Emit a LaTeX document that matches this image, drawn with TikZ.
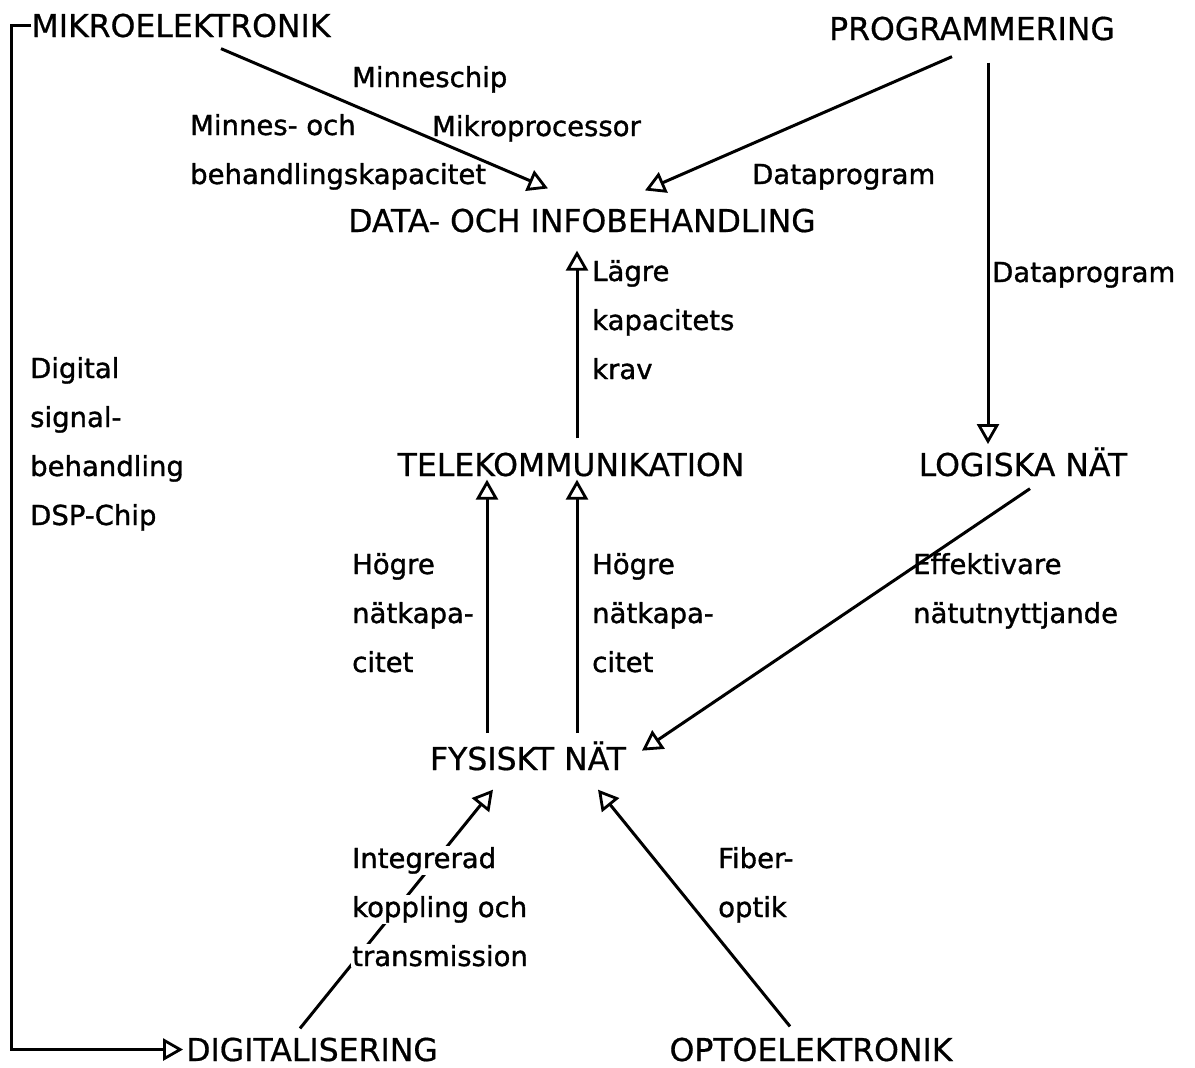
\documentclass[tikz,border=0pt]{standalone}
\usepackage{fontspec}
\setmainfont{DejaVu Sans}
\newfontfamily\omradefont[FakeBold=0.6]{DejaVu Sans}
\newfontfamily\etikettfont[FakeBold=1.2]{DejaVu Sans}
\usetikzlibrary{arrows.meta}
\newcommand{\vitbakgrund}[1]{{\setlength{\fboxsep}{1pt}\colorbox{white}{#1}}}

\begin{document}
\begin{tikzpicture}
            [
                x=1pt, y=-1pt,
                omrade/.style={inner sep=0pt, anchor=base, font=\omradefont\fontsize{31.5}{36}\selectfont},
                etikett/.style={inner sep=0pt, anchor=base west, align=left, font=\etikettfont\fontsize{27.5}{49}\selectfont},
                pil/.style={line width=3pt, -{Triangle[open, length=20pt, width=22pt, line width=2.8pt]}},
            ]
            \useasboundingbox (0,0) rectangle (1195,1068);
            % områden
            \node[omrade] (mikro) at (181,37) {MIKROELEKTRONIK};
            \node[omrade] (prog) at (972,40) {PROGRAMMERING};
            \node[omrade] (data) at (582,232) {DATA- OCH INFOBEHANDLING};
            \node[omrade] (tele) at (571,476) {TELEKOMMUNIKATION};
            \node[omrade] (logiska) at (1023,476) {LOGISKA NÄT};
            \node[omrade] (fysiskt) at (528,770) {FYSISKT NÄT};
            \node[omrade] (digital) at (312,1061) {DIGITALISERING};
            \node[omrade] (opto) at (811,1061) {OPTOELEKTRONIK};
            % pilar
            \draw[pil] ([shift={(40,11)}]mikro.south) -- ([shift={(-34,-20)}]data.north);
            \draw[pil] ([shift={(-20,16)}]prog.south) -- ([shift={(63,-18)}]data.north);
            \draw[pil] ([shift={(16,22)}]prog.south) -- ([shift={(-35,-3)}]logiska.north);
            \draw[pil] ([shift={(6,-14)}]tele.north) -- ([shift={(-5,18)}]data.south);
            \draw[pil] ([shift={(-41,-8)}]fysiskt.north) -- ([shift={(-84,3)}]tele.south);
            \draw[pil] ([shift={(49,-8)}]fysiskt.north) -- ([shift={(6,3)}]tele.south);
            \draw[pil] ([shift={(7,12)}]logiska.south) -- ([shift={(114,-20)}]fysiskt.south);
            \draw[pil] ([shift={(-12,-9)}]digital.north) -- ([shift={(-35,19)}]fysiskt.south);
            \draw[pil] ([shift={(-21,-11)}]opto.north) -- ([shift={(70,19)}]fysiskt.south);
            \draw[pil] (mikro.west) -- ++(-20,0) |- ([xshift=-3pt]digital.west);
            % etiketter
            \node[etikett] (minneschip) at (352,87) {Minneschip};
            \node[etikett] (minnes) at (190,184) {Minnes- och\\behandlingskapacitet};
            \node[etikett] (mikroproc) at (432,136) {Mikroprocessor};
            \node[etikett] (dataprogA) at (752,184) {Dataprogram};
            \node[etikett] (dataprogB) at (992,282) {Dataprogram};
            \node[etikett] (lagre) at (592,379) {Lägre\\kapacitets\\krav};
            \node[etikett] (dsp) at (30,525) {Digital\\signal-\\behandling\\DSP-Chip};
            \node[etikett] (hogreA) at (352,672) {Högre\\nätkapa-\\citet};
            \node[etikett] (hogreB) at (592,672) {Högre\\nätkapa-\\citet};
            \node[etikett] (effektiv) at (913,623) {Effektivare\\nätutnyttjande};
            \node[etikett] (integrerad) at (351,966) {\vitbakgrund{Integrerad}\\\vitbakgrund{koppling och}\\\vitbakgrund{transmission}};
            \node[etikett] (fiber) at (718,917) {Fiber-\\optik};
        \end{tikzpicture}
\end{document}
